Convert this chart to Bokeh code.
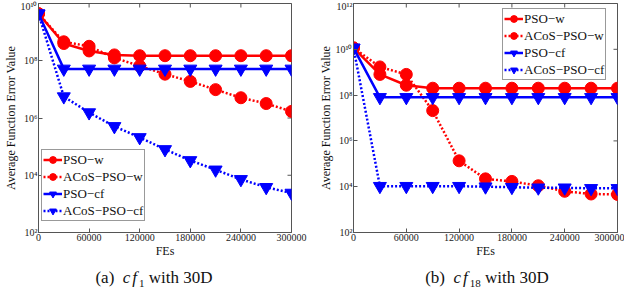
from bokeh.plotting import figure
from bokeh.models import (FixedTicker, LegendItem, Legend, Div, Range1d,
                          CustomJSTickFormatter, BasicTickFormatter)
from bokeh.layouts import row, column
from bokeh.embed import file_html
from bokeh.resources import INLINE

# ---- data ----
fes = [0, 30000, 60000, 90000, 120000, 150000, 180000, 210000, 240000, 270000, 300000]
x_ticks = [0, 60000, 120000, 180000, 240000, 300000]

# (a) cf1 with 30D
a_pso_w = [4.4e9, 4.0e8, 2.2e8, 1.6e8, 1.5e8, 1.5e8, 1.5e8, 1.5e8, 1.5e8, 1.5e8, 1.5e8]
a_acos_pso_w = [4.4e9, 4.6e8, 3.2e8, 1.26e8, 6.6e7, 3.4e7, 1.9e7, 9.8e6, 5.1e6, 3.2e6, 1.7e6]
a_pso_cf = [4.4e9, 5.2e7, 5.2e7, 5.2e7, 5.2e7, 5.2e7, 5.2e7, 5.2e7, 5.2e7, 5.2e7, 5.2e7]
a_acos_pso_cf = [4.4e9, 5.6e6, 1.55e6, 5.1e5, 2.1e5, 8.0e4, 3.3e4, 1.55e4, 7.2e3, 3.8e3, 2.4e3]
a_y_ticks = [1e2, 1e4, 1e6, 1e8, 1e10]

# (b) cf18 with 30D
b_pso_w = [1.15e10, 8.0e8, 2.7e8, 2.0e8, 2.0e8, 2.0e8, 2.0e8, 2.0e8, 2.0e8, 2.0e8, 2.0e8]
b_acos_pso_w = [1.15e10, 1.7e9, 8.0e8, 2.1e7, 1.35e5, 2.2e4, 1.7e4, 1.1e4, 6.3e3, 4.8e3, 4.6e3]
b_pso_cf = [1.15e10, 8.0e7, 8.0e7, 8.0e7, 8.0e7, 8.0e7, 8.0e7, 8.0e7, 8.0e7, 8.0e7, 8.0e7]
b_acos_pso_cf = [1.15e10, 1.05e4, 1.05e4, 1.05e4, 1.05e4, 1.0e4, 9.5e3, 9.0e3, 9.0e3, 8.5e3, 8.5e3]
b_y_ticks = [1e2, 1e4, 1e6, 1e8, 1e10, 1e12]

labels = ["PSO\u2212w", "ACoS\u2212PSO\u2212w", "PSO\u2212cf", "ACoS\u2212PSO\u2212cf"]

SERIF = "Liberation Serif"
RED = "#ff0000"
BLUE = "#0000ff"
AXC = "#555555"


def sup_formatter():
    return CustomJSTickFormatter(code="""
const sup = {'0':'\u2070','1':'\u00b9','2':'\u00b2','3':'\u00b3','4':'\u2074','5':'\u2075','6':'\u2076','7':'\u2077','8':'\u2078','9':'\u2079'};
const e = Math.round(Math.log10(tick));
return '10' + String(e).split('').map(c => sup[c]).join('');
""")


def make_fig(series, y_ticks, y_range, borders, legend_loc):
    bl, br, bt, bb = borders
    p = figure(width=312, height=268, y_axis_type="log",
               x_range=Range1d(0, 300000), y_range=Range1d(*y_range),
               output_backend="svg", toolbar_location=None,
               min_border_left=bl, min_border_right=br,
               min_border_top=bt, min_border_bottom=bb)
    p.grid.visible = False
    p.outline_line_color = AXC
    p.outline_line_width = 1
    p.background_fill_color = "white"

    xa = p.xaxis[0]
    xa.ticker = FixedTicker(ticks=x_ticks)
    xa.formatter = BasicTickFormatter(use_scientific=False)
    xa.axis_label = "FEs"
    ya = p.yaxis[0]
    ya.ticker = FixedTicker(ticks=y_ticks)
    ya.formatter = sup_formatter()
    ya.axis_label = "Average Function Error Value"
    for ax in (xa, ya):
        ax.axis_line_color = AXC
        ax.major_tick_line_color = AXC
        ax.major_tick_in = 4
        ax.major_tick_out = 0
        ax.minor_tick_line_color = None
        ax.major_label_text_font = SERIF
        ax.major_label_text_font_size = "10px"
        ax.major_label_text_color = "#222222"
        ax.axis_label_text_font = SERIF
        ax.axis_label_text_font_size = "12px"
        ax.axis_label_text_font_style = "normal"
        ax.axis_label_text_color = "#111111"
        ax.major_label_standoff = 1
        ax.axis_label_standoff = 0

    # inward tick marks on the top and right frame edges (half of each dash is clipped)
    p.scatter(x_ticks, [y_range[1]] * len(x_ticks), marker="dash", angle=1.5708,
              size=8, line_color=AXC, line_width=1)
    p.scatter([300000] * len(y_ticks), y_ticks, marker="dash",
              size=8, line_color=AXC, line_width=1)

    styles = [(RED, "solid", "circle", 12), (RED, "dotted", "circle", 12),
              (BLUE, "solid", "inverted_triangle", 13), (BLUE, "dotted", "inverted_triangle", 13)]
    items = []
    for vals, lab, (col, dash, mk, sz) in zip(series, labels, styles):
        ln = p.line(fes, vals, line_color=col, line_width=2.5,
                    line_dash=("solid" if dash == "solid" else "2 2"))
        sc = p.scatter(fes, vals, marker=mk, size=sz, fill_color=col, line_color=col)
        items.append(LegendItem(label=lab, renderers=[ln, sc]))

    leg = Legend(items=items, location=legend_loc)
    leg.label_text_font = SERIF
    leg.label_text_font_size = "13px"
    leg.label_text_color = "#111111"
    leg.border_line_color = "#333333"
    leg.border_line_width = 1
    leg.background_fill_color = "white"
    leg.background_fill_alpha = 1
    leg.glyph_width = 19
    leg.glyph_height = 17
    leg.label_height = 16
    leg.label_standoff = 1
    leg.spacing = 0
    leg.padding = 1
    leg.margin = 0
    p.add_layout(leg, "center")
    return p


p1 = make_fig([a_pso_w, a_acos_pso_w, a_pso_cf, a_acos_pso_cf], a_y_ticks, (1e2, 1e10),
              (26, 21, 3, 34), (3, 11))
p2 = make_fig([b_pso_w, b_acos_pso_w, b_pso_cf, b_acos_pso_cf], b_y_ticks, (1e2, 1e12),
              (41, 7, 1, 36), (149, 152))

cap_style = ("position:relative;top:-4px;text-align:center;font-family:'Liberation Serif';"
             "font-size:17px;line-height:17px;color:#111;width:312px;white-space:nowrap;")
cf_style = "font-style:italic;letter-spacing:2px;"
d1 = Div(text=(f"<div style=\"{cap_style}padding-right:14px;\">(a)&nbsp;&nbsp;<span style='{cf_style}'>cf</span>"
               f"<sub style='font-size:11px'>1</sub> with 30D</div>"),
         width=312, height=4)
d2 = Div(text=(f"<div style=\"{cap_style}padding-left:8px;\">(b)&nbsp;&nbsp;<span style='{cf_style}'>cf</span>"
               f"<sub style='font-size:11px'>18</sub> with 30D</div>"),
         width=312, height=4)

layout = column(row(p1, p2), row(d1, d2))
open("out.html", "w").write(file_html(layout, INLINE))
